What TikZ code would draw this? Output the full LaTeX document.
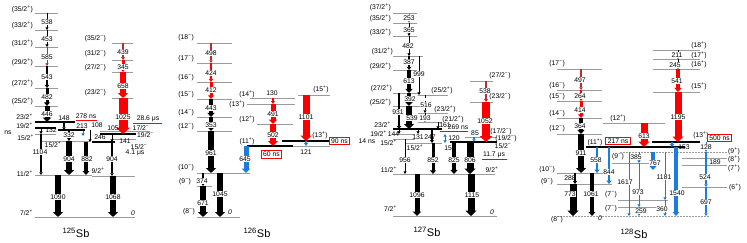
\documentclass[tikz,border=0pt]{standalone}
\usepackage{fontspec}
\setmainfont{Liberation Sans}
\usetikzlibrary{arrows.meta}
\definecolor{gred}{RGB}{250,0,0}
\definecolor{dred}{RGB}{185,45,45}
\definecolor{gblue}{RGB}{25,125,220}
\definecolor{lvl}{RGB}{155,155,155}
\newcommand\spp{\textsuperscript{+}}
\newcommand\smm{\textsuperscript{−}}
\tikzset{
  levline/.style={draw=lvl, line width=0.6pt},
  isoline/.style={draw=black, line width=1.4pt},
  elab/.style={font=\fontsize{6.8}{7}\selectfont, fill=white, inner sep=0.3pt},
  jlab/.style={font=\fontsize{6.8}{7}\selectfont, inner sep=0pt},
  gtip/.style={-{Triangle[width=1.8pt 1.3, length=2.2pt 0.45]}},
  gtipb/.style={{Triangle[width=1.8pt 1.3, length=2.2pt 0.45]}-{Triangle[width=1.8pt 1.3, length=2.2pt 0.45]}},
  isobox/.style={draw=gred, line width=0.8pt, font=\fontsize{6.8}{7}\selectfont, inner xsep=2pt, inner ysep=1.3pt, fill=white},
  nuc/.style={font=\fontsize{11}{12}\selectfont, inner sep=0pt},
  uline/.style={draw=gred, line width=0.8pt},
}
\newcommand\Lv[3]{\draw[levline] (#1,#3) -- (#2,#3);}
\newcommand\Lvd[3]{\draw[levline,dash pattern=on 2pt off 1pt] (#1,#3) -- (#2,#3);}
\newcommand\Iso[3]{\draw[isoline] (#1,#3) -- (#2,#3);}
\newcommand\Gm[5][black]{\draw[#1, line width=#5pt, gtip] (#2,#3) -- (#2,#4);}
\newcommand\eLab[3]{\node[elab] at (#1,#2) {#3};}
\newcommand\jLab[3]{\node[jlab] at (#1,#2) {#3};}
\newcommand\jLabE[3]{\node[jlab,anchor=east] at (#1,#2) {#3};}
\begin{document}
\begin{tikzpicture}[x=1pt,y=-1pt]
\useasboundingbox (0,0) rectangle (747,243);
\fill[white] (0,0) rectangle (747,243);

%%%%%%%%%%%%%%%% 125Sb
\foreach \yy in {13,30,47,66,88,106} {\Lv{35}{58}{\yy}}
\Lv{35}{56}{134}
\Lv{42}{90}{141}
\Lv{35}{92}{175}
\Lv{92}{135}{176}
\Lv{35}{135}{217}
\foreach \yy in {43,60,72,98} {\Lv{112}{133}{\yy}}
\Lv{100}{150}{131}
\Lv{112}{136}{139}
\Iso{35}{75}{122}
\Iso{35}{56}{128}
\Iso{58}{85}{130}
\Iso{92}{115}{142}
\Iso{100}{136}{134}

\Gm{47}{13}{30}{0.8}
\Gm{47}{30}{47}{1}
\Gm[dred]{47}{47}{66}{1}
\Gm{47}{66}{88}{2}
\Gm{47}{88}{106}{3}
\Gm{47}{106}{122}{5}
\Gm{41}{128}{134}{1}
\Gm{41}{134}{175}{1.2}
\Gm{64}{122}{130}{1.2}
\Gm{69}{130}{141}{1.5}
\Gm{69}{141}{175}{6}
\Gm[gblue]{83}{131}{136}{1}
\Gm{90}{130}{142}{0.8}
\Gm{86}{142}{175}{3.5}
\Gm{58}{175}{217}{6}
\Gm{113}{176}{217}{6}
\Gm{112}{142}{176}{1.2}
\Gm{112}{134}{142}{1}
\Gm[dred]{123}{43}{60}{1.5}
\Gm[gred]{123}{60}{72}{3}
\Gm[gred]{123}{72}{98}{6}
\Gm[gred]{123}{98}{134}{9}

\jLabE{33}{9}{(35/2\spp)}
\jLabE{33}{25}{(33/2\spp)}
\jLabE{33}{43}{(31/2\spp)}
\jLabE{33}{62}{(29/2\spp)}
\jLabE{33}{83}{(27/2\spp)}
\jLabE{33}{101}{(25/2\spp)}
\jLabE{33}{117}{23/2\spp}
\jLabE{33}{126}{19/2\spp}
\jLab{8}{133}{ns}
\jLabE{34}{138}{15/2\spp}
\jLabE{33}{174}{11/2\spp}
\jLabE{33}{213}{7/2\spp}
\eLab{47}{22}{538}
\eLab{47}{39}{453}
\eLab{47}{57}{585}
\eLab{47}{77}{543}
\eLab{47}{97}{482}
\eLab{47}{114}{446}
\jLab{64}{118}{148}
\jLab{51}{130}{132}
\eLab{40}{152}{1104}
\eLab{69}{135}{332}
\jLab{53}{145}{15/2\spp}
\eLab{69}{159}{904}
\jLab{86}{116}{278 ns}
\draw[uline] (76,120) -- (97,120);
\jLab{82}{126}{213}
\jLab{97}{125}{108}
\jLab{100}{137}{246}
\eLab{87}{159}{882}
\jLab{98}{171}{9/2\spp}
\eLab{58}{197}{1090}
\eLab{113}{197}{1068}
\eLab{112}{159}{904}
\jLab{133}{213}{\itshape 0}
\jLab{113}{128}{105}
\jLab{141}{128}{17/2\smm}
\node[jlab,anchor=west] at (137,135) {19/2\smm};
\jLab{125}{141}{141}
\jLab{139}{147}{15/2\smm}
\jLab{135}{153}{4.1 μs}
\jLabE{106}{39}{(35/2\smm)}
\jLabE{106}{54}{(31/2\smm)}
\jLabE{106}{68}{(27/2\smm)}
\jLabE{106}{93}{(23/2\smm)}
\eLab{123}{52}{439}
\eLab{123}{67}{345}
\eLab{123}{86}{658}
\eLab{123}{117}{1025}
\jLab{148}{119}{28.6 μs}
\draw[uline] (133,123) -- (162,123);
\node[nuc] at (76,233) {\textsuperscript{125}Sb};

%%%%%%%%%%%%%%%% 126Sb
\foreach \yy in {43,63,82,99,117,131} {\Lv{197}{232}{\yy}}
\Lv{197}{250}{173}
\Lv{197}{212}{186}
\Lv{197}{240}{217}
\Lv{250}{295}{98}
\Lv{247}{295}{104}
\Lv{257}{293}{124}
\Lv{298}{330}{95}
\Lv{293}{330}{146}
\Iso{247}{293}{146}
\Iso{282}{330}{141}

\Gm[dred]{211}{43}{63}{1.2}
\Gm[gred]{211}{63}{82}{2}
\Gm[gred]{211}{82}{99}{3}
\Gm{211}{99}{117}{4}
\Gm{211}{117}{131}{4}
\Gm{211}{131}{173}{6}
\Gm{203}{173}{186}{1.5}
\Gm{203}{186}{217}{6}
\Gm{220}{173}{217}{6}
\Gm[gred]{273}{98}{104}{1.5}
\Gm[gred]{273}{104}{124}{5}
\Gm[gred]{273}{124}{146}{6}
\Gm[gblue]{246}{146}{173}{5}
\Gm[gred]{306}{95}{141}{7}
\Gm[gblue]{306}{141}{146}{1.5}

\jLabE{194}{38}{(18\smm)}
\jLabE{194}{59}{(17\smm)}
\jLabE{194}{78}{(16\smm)}
\jLabE{194}{95}{(15\smm)}
\jLabE{194}{113}{(14\smm)}
\jLabE{194}{127}{(12\smm)}
\jLabE{194}{168}{(10\smm)}
\jLabE{191}{182}{(9\smm)}
\jLabE{195}{212}{(8\smm)}
\eLab{211}{53}{498}
\eLab{211}{73}{424}
\eLab{211}{90}{412}
\eLab{211}{108}{443}
\eLab{211}{125}{353}
\eLab{211}{153}{961}
\eLab{202}{181}{374}
\eLab{203}{203}{671}
\eLab{220}{194}{1045}
\jLab{230}{212}{\itshape 0}
\jLab{247}{94}{(14\spp)}
\jLab{272}{93}{130}
\jLab{237}{104}{(13\spp)}
\eLab{273}{114}{491}
\jLab{247}{119}{(12\spp)}
\eLab{273}{135}{502}
\jLab{247}{141}{(11\spp)}
\node[isobox] at (271.5,154.5) {60 ns};
\eLab{245}{159}{645}
\jLab{321}{89}{(15\spp)}
\eLab{306}{117}{1101}
\jLab{320}{135}{(13\spp)}
\jLab{306}{152}{121}
\node[isobox] at (339.5,141) {90 ns};
\node[nuc] at (257,233) {\textsuperscript{126}Sb};

%%%%%%%%%%%%%%%% 127Sb
\foreach \yy in {13,23,36,70} {\Lv{393}{417}{\yy}}
\Lv{393}{423}{56}
\Lv{393}{420}{93}
\Lv{393}{420}{106}
\Lv{418}{448}{95}
\Lv{418}{448}{113}
\Lv{418}{442}{122}
\Lv{393}{415}{134}
\Lv{393}{415}{139}
\Lv{405}{442}{143}
\Lv{465}{497}{137}
\Lv{470}{493}{81}
\Lv{470}{493}{102}
\Lv{393}{445}{174}
\Lv{445}{495}{174}
\Lv{393}{497}{216}
\Iso{393}{442}{129}
\Iso{450}{497}{142}

\Gm[gray]{409}{13}{23}{0.8}
\Gm{409}{23}{36}{0.8}
\Gm{409}{36}{56}{1}
\Gm{409}{56}{70}{2}
\Gm{409}{70}{93}{4}
\Gm{409}{93}{106}{4.5}
\Gm{409}{106}{129}{6}
\Gm{419}{56}{95}{1}
\Gm{399}{93}{129}{2}
\Gm[dashed]{425}{95}{113}{0.8}
\Gm{425}{113}{122}{1}
\Gm{438}{122}{129}{1}
\Gm{399}{129}{134}{1}
\Gm{418}{129}{134}{1}
\Gm{432}{129}{143}{1.5}
\Gm{405}{139}{174}{0.8}
\Gm{433}{143}{174}{3}
\draw[gblue, line width=1pt, gtipb] (445,134) -- (445,143);
\Gm{454}{142}{174}{4}
\Gm{470}{142}{174}{7}
\Gm[gblue]{474}{137}{142}{1.2}
\Gm[dred]{486}{81}{102}{1.5}
\Gm[gred]{486}{102}{142}{8}
\Gm{417}{174}{216}{5}
\Gm{471}{174}{216}{7}

\jLabE{391}{7}{(37/2\spp)}
\jLabE{391}{18}{(35/2\spp)}
\jLabE{391}{32}{(33/2\spp)}
\jLabE{393}{51}{(31/2\spp)}
\jLabE{391}{66}{(29/2\spp)}
\jLabE{392}{88}{(27/2\spp)}
\jLabE{391}{102}{(25/2\spp)}
\jLabE{391}{125}{23/2\spp}
\jLabE{387}{134}{19/2\spp}
\jLab{393.5}{134}{144}
\jLab{367}{141}{14 ns}
\jLabE{397}{143}{15/2\spp}
\eLab{409}{18}{253}
\eLab{409}{30}{365}
\eLab{408}{46}{482}
\eLab{409}{62}{387}
\eLab{409}{81}{613}
\eLab{410}{99}{392}
\eLab{412}{118}{539}
\eLab{419}{74}{999}
\eLab{398}{112}{931}
\jLab{442}{90}{(25/2\spp)}
\eLab{426}{105}{516}
\jLab{445}{109}{(23/2\spp)}
\eLab{425}{118}{193}
\jLab{453}{119}{(21/2\spp)}
\jLab{445}{125}{161}
\jLab{458}{127}{269 ns}
\draw[uline] (440,131.5) -- (468,131.5);
\jLab{418}{137}{131}
\jLab{430}{137}{247}
\jLab{415}{148}{15/2\spp}
\eLab{405}{160}{956}
\eLab{433}{160}{852}
\jLab{450}{148}{153}
\jLab{454}{138}{120}
\eLab{454}{160}{825}
\eLab{470}{160}{806}
\jLab{475}{133}{85}
\jLab{501}{131.5}{(17/2\smm)}
\jLab{506}{139}{(19/2\smm)}
\jLab{503}{146.5}{15/2\smm}
\jLab{494}{155}{11.7 μs}
\draw[uline] (482,159) -- (507,159);
\jLab{500}{76}{(27/2\smm)}
\eLab{485}{91}{538}
\jLab{500}{97}{(23/2\smm)}
\eLab{485}{121}{1052}
\jLabE{397}{170}{11/2\spp}
\jLab{492}{170}{9/2\spp}
\eLab{417}{195}{1096}
\eLab{472}{195}{1115}
\jLabE{397}{209}{7/2\spp}
\jLab{492}{212}{\itshape 0}
\node[nuc] at (427,232) {\textsuperscript{127}Sb};

%%%%%%%%%%%%%%%% 128Sb
\foreach \yy in {69,90,101,118,134} {\Lv{557}{602}{\yy}}
\Lv{557}{603}{173}
\Lv{557}{612}{184}
\Lvd{557}{710}{216}
\Lv{603}{665}{123}
\Lv{612}{655}{163}
\Lvd{620}{727}{152}
\Lv{618}{668}{200}
\Lv{618}{668}{207}
\foreach \yy in {50,59,69,92} {\Lv{653}{700}{\yy}}
\Lv{682}{727}{158}
\Lv{682}{727}{165}
\Lv{682}{727}{187}
\Iso{586}{685}{147}
\Iso{652}{700}{142}

\Gm[dred]{581}{69}{90}{1.2}
\Gm[gred]{581}{90}{101}{2}
\Gm[gred]{581}{101}{118}{3}
\Gm{581}{118}{134}{4}
\Gm{581}{134}{173}{6}
\Gm{575}{173}{184}{1.5}
\Gm{573}{184}{216}{7}
\Gm{592}{173}{216}{3.5}
\Gm[gblue]{597}{147}{173}{2.5}
\Gm[gblue]{609}{147}{184}{2.5}
\Gm[gred]{644}{123}{147}{7}
\Gm[gblue]{639}{152}{163}{1}
\Gm[gblue]{639}{163}{207}{1}
\Gm[gblue]{639}{207}{216}{1}
\Gm[gblue]{629}{152}{216}{1}
\Gm[gblue]{653}{152}{170}{4}
\Gm[gblue]{665}{152}{200}{1}
\Gm[gblue]{665}{200}{216}{1}
\Gm[gblue]{676}{147}{216}{3.5}
\Gm[gblue]{672}{142}{147}{2}
\Gm{678}{50}{59}{0.8}
\Gm{678}{59}{69}{0.8}
\Gm[gred]{678}{69}{92}{4}
\Gm[gred]{678}{92}{142}{7}
\Gm[gblue]{706}{142}{152}{1}
\Gm[gblue]{706}{152}{187}{1.2}
\Gm[gblue]{706}{187}{216}{1.2}

\jLabE{565}{64}{(17\smm)}
\jLabE{565}{86}{(16\smm)}
\jLabE{565}{97}{(15\smm)}
\jLabE{565}{114}{(14\smm)}
\jLabE{565}{129}{(12\smm)}
\eLab{580}{80}{497}
\eLab{580}{96}{264}
\eLab{580}{110}{414}
\eLab{580}{126}{364}
\eLab{581}{153}{911}
\jLabE{555}{170}{(10\smm)}
\jLabE{553}{182}{(9\smm)}
\jLab{570}{178}{288}
\eLab{570}{194}{773}
\eLab{591}{194}{1061}
\jLabE{563}{220}{(8\smm)}
\jLab{600}{218}{\itshape 0}
\jLab{595}{142}{(11\spp)}
\node[isobox] at (618,141) {217 ns};
\eLab{596}{160}{558}
\eLab{609}{172}{844}
\jLab{618}{118}{(12\spp)}
\eLab{644}{136}{613}
\jLab{618}{157}{(9\smm)}
\eLab{636}{157}{385}
\eLab{638}{192}{973}
\eLab{641}{211}{259}
\eLab{625}{182}{1617}
\eLab{655}{163}{767}
\eLab{664}{177}{1181}
\eLab{662}{209}{360}
\jLab{611}{195}{(7\smm)}
\jLab{611}{209}{(7\smm)}
\eLab{677}{193}{1540}
\jLab{701}{135}{(13\spp)}
\node[isobox] at (719.5,138) {500 ns};
\jLab{684}{147}{153}
\jLab{699}{45}{(18\spp)}
\jLab{699}{55}{(17\spp)}
\eLab{677}{55}{211}
\jLab{699}{64}{(16\spp)}
\eLab{675}{65}{245}
\eLab{677}{81}{541}
\jLab{699}{86}{(15\spp)}
\eLab{678}{117}{1195}
\eLab{706}{147}{128}
\jLab{734}{151}{(9\spp)}
\jLab{734}{159}{(8\spp)}
\jLab{734}{168}{(7\spp)}
\jLab{715}{162}{189}
\eLab{705}{177}{524}
\jLab{735}{187}{(6\spp)}
\eLab{706}{202}{697}
\node[nuc] at (634,234) {\textsuperscript{128}Sb};
\end{tikzpicture}
\end{document}
